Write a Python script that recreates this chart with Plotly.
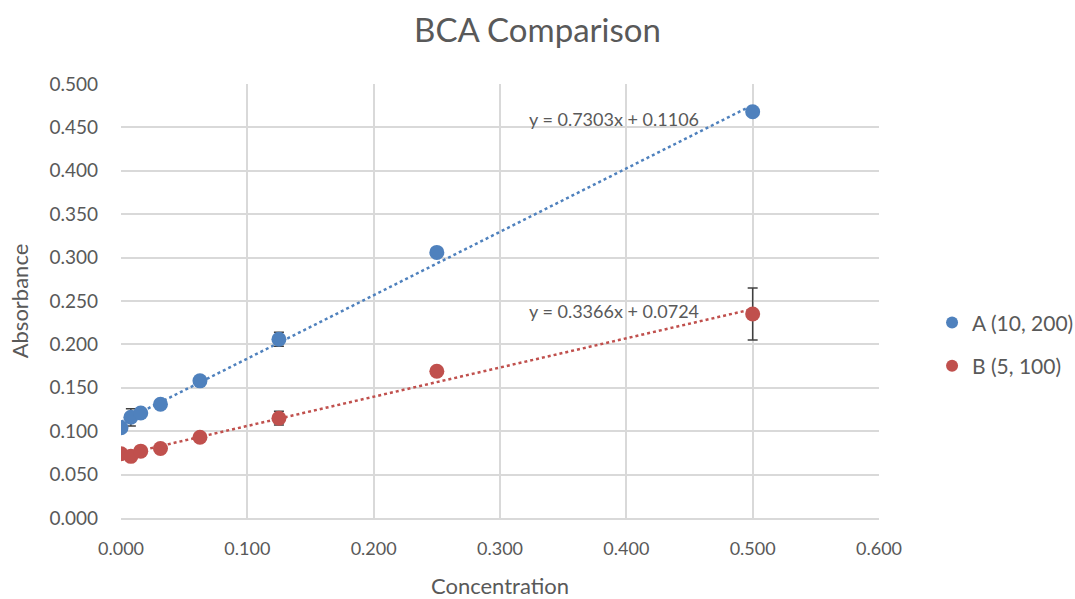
import plotly.graph_objects as go

concentration = [0.0, 0.0078125, 0.015625, 0.03125, 0.0625, 0.125, 0.25, 0.5]
series_names = ["A (10, 200)", "B (5, 100)"]
absorbance_a = [0.104, 0.116, 0.121, 0.131, 0.158, 0.206, 0.306, 0.468]
absorbance_b = [0.074, 0.071, 0.077, 0.080, 0.093, 0.115, 0.169, 0.235]
error_a = [0.003, 0.010, 0.003, 0.003, 0.003, 0.008, 0.003, 0.003]
error_b = [0.002, 0.002, 0.002, 0.002, 0.002, 0.008, 0.003, 0.030]
slopes = [0.7303, 0.3366]
intercepts = [0.1106, 0.0724]
trend_labels = ["y = 0.7303x + 0.1106", "y = 0.3366x + 0.0724"]
label_y = [0.460, 0.239]
colors = ["#4f81bd", "#c0504d"]

fig = go.Figure()
xs = [concentration[0], concentration[-1]]
for i in range(2):
    fig.add_trace(go.Scatter(
        x=xs, y=[slopes[i] * x + intercepts[i] for x in xs], mode="lines",
        line=dict(color=colors[i], width=2.5, dash="dot"),
        showlegend=False, hoverinfo="skip"))
for i, (ys, es) in enumerate([(absorbance_a, error_a), (absorbance_b, error_b)]):
    fig.add_trace(go.Scatter(
        x=concentration, y=ys, mode="markers", name=series_names[i],
        legendgroup=f"g{i}",
        marker=dict(color=colors[i], size=15),
        error_y=dict(type="data", array=es, color="#404040", thickness=1.5, width=5)))
    fig.add_annotation(x=0.39, y=label_y[i], text=trend_labels[i], showarrow=False,
                       font=dict(size=18, color="#595959"), xanchor="center")

font_family = "Lato, Open Sans, sans-serif"
fig.update_layout(
    width=1075, height=599,
    margin=dict(l=121, r=196, t=84, b=81, autoexpand=False),
    paper_bgcolor="white", plot_bgcolor="white",
    font=dict(family=font_family, color="#595959", size=18),
    title=dict(text="BCA Comparison", x=0.5, xanchor="center", y=0.95, yanchor="middle",
               font=dict(size=33, color="#595959")),
    legend=dict(x=1.07, y=0.40, xanchor="left", yanchor="middle",
                font=dict(size=21, color="#595959"), itemsizing="constant",
                itemwidth=30, tracegroupgap=13),
    xaxis=dict(title=dict(text="Concentration", font=dict(size=22), standoff=24),
               range=[0, 0.6], dtick=0.1, tickformat=".3f", automargin=False,
               showgrid=True, gridcolor="#d9d9d9", gridwidth=1.5,
               zeroline=False, showline=True, linecolor="#d9d9d9", linewidth=1.5,
               ticks="", tickfont=dict(size=18), ticklabelstandoff=14),
    yaxis=dict(title=dict(text="Absorbance", font=dict(size=22), standoff=14),
               range=[0, 0.5], dtick=0.05, tickformat=".3f", automargin=False,
               showgrid=True, gridcolor="#d9d9d9", gridwidth=1.5,
               zeroline=False, showline=False, ticks="", tickfont=dict(size=19),
               ticklabelstandoff=22),
)
fig.write_html("out.html")
